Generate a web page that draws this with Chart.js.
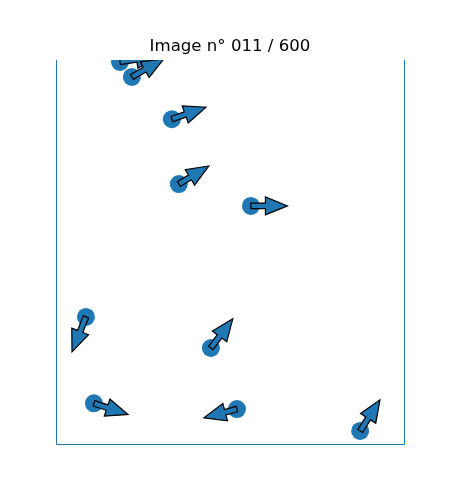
<!DOCTYPE html>
<html>
<head>
<meta charset="utf-8">
<script src="https://cdn.jsdelivr.net/npm/chart.js@4"></script>
<style>
  body { margin: 0; background: #fff; }
  #wrap { width: 450px; height: 500px; }
</style>
</head>
<body>
<div id="wrap"><canvas id="chart" width="450" height="500"></canvas></div>
<script>
// positions of the particles and their velocity arrows (data units, 0..10)
const xs = [1.84, 2.18, 3.33, 3.53, 5.60, 0.86, 4.45, 1.09, 5.20, 8.74];
const ys = [9.95, 9.56, 8.46, 6.77, 6.20, 3.31, 2.50, 1.06, 0.91, 0.34];
const dxs = [1.10, 0.92, 0.98, 0.86, 1.05, -0.40, 0.63, 0.98, -0.95, 0.57];
const dys = [0.15, 0.47, 0.31, 0.47, 0.00, -0.91, 0.76, -0.29, -0.23, 0.81];
const titleText = 'Image n° 011 / 600';

const blue = '#1f77b4';

// arrows drawn on top of the dots, clipped to the plot area
const arrowPlugin = {
    id: 'arrows',
    afterDatasetsDraw(chart) {
        const { ctx, chartArea: a, scales: { x, y } } = chart;
        ctx.save();
        ctx.beginPath();
        ctx.rect(a.left, a.top, a.right - a.left, a.bottom - a.top);
        ctx.clip();
        xs.forEach((v, i) => {
            const x0 = x.getPixelForValue(v);
            const y0 = y.getPixelForValue(ys[i]);
            const x1 = x.getPixelForValue(v + dxs[i]);
            const y1 = y.getPixelForValue(ys[i] + dys[i]);
            const len = Math.hypot(x1 - x0, y1 - y0);
            const ang = Math.atan2(y1 - y0, x1 - x0);
            const hw = 2.8, headW = 9, headL = 22;
            ctx.save();
            ctx.translate(x0, y0);
            ctx.rotate(ang);
            ctx.beginPath();
            ctx.moveTo(0, -hw);
            ctx.lineTo(len - headL, -hw);
            ctx.lineTo(len - headL, -headW);
            ctx.lineTo(len, 0);
            ctx.lineTo(len - headL, headW);
            ctx.lineTo(len - headL, hw);
            ctx.lineTo(0, hw);
            ctx.closePath();
            ctx.fillStyle = blue;
            ctx.fill();
            ctx.lineWidth = 1.2;
            ctx.lineJoin = 'miter';
            ctx.strokeStyle = '#000';
            ctx.stroke();
            ctx.restore();
        });
        ctx.restore();
    },
    afterDraw(chart) {
        // left, right and bottom spines only
        const { ctx, chartArea: a } = chart;
        ctx.save();
        ctx.strokeStyle = blue;
        ctx.lineWidth = 1;
        ctx.beginPath();
        ctx.moveTo(a.left + 0.5, a.top);
        ctx.lineTo(a.left + 0.5, a.bottom + 0.5);
        ctx.lineTo(a.right + 0.5, a.bottom + 0.5);
        ctx.lineTo(a.right + 0.5, a.top);
        ctx.stroke();
        ctx.restore();
    }
};

new Chart(document.getElementById('chart'), {
    type: 'scatter',
    data: {
        datasets: [{
            data: xs.map((v, i) => ({ x: v, y: ys[i] })),
            backgroundColor: blue,
            borderWidth: 0,
            pointRadius: 9,
            pointHoverRadius: 9,
            clip: 0
        }]
    },
    options: {
        responsive: false,
        animation: false,
        layout: { padding: { left: 56, right: 46, top: 0, bottom: 56 } },
        plugins: {
            legend: { display: false },
            tooltip: { enabled: false },
            title: {
                display: true,
                text: titleText,
                color: '#000',
                font: { family: 'DejaVu Sans', size: 16.6, weight: 'normal', lineHeight: 1 },
                padding: { top: 38, bottom: 5.4 }
            }
        },
        scales: {
            x: { type: 'linear', min: 0, max: 10, display: false },
            y: { type: 'linear', min: 0, max: 10, display: false }
        }
    },
    plugins: [arrowPlugin]
});
</script>
</body>
</html>
